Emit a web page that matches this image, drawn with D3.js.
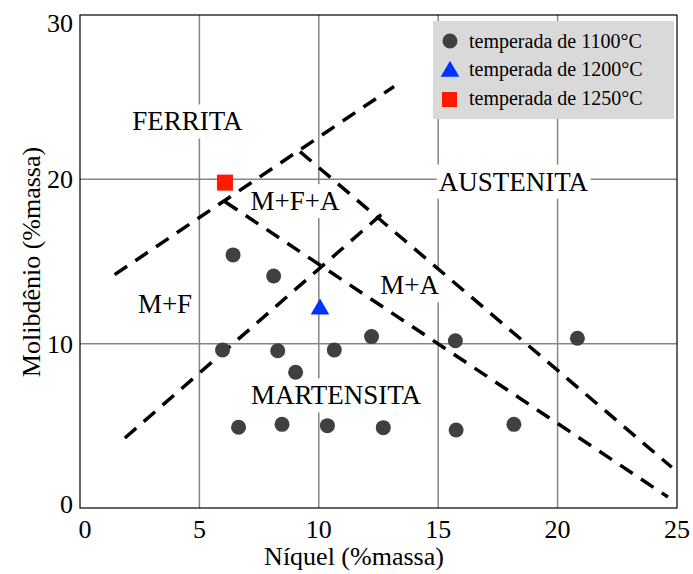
<!DOCTYPE html>
<html>
<head>
<meta charset="utf-8">
<script src="https://cdn.jsdelivr.net/npm/d3@7"></script>
<style>
  body { margin: 0; background: #fff; }
  svg { display: block; }
  text { fill: #000; }
</style>
</head>
<body>
<svg id="chart" width="693" height="574" font-family="'Liberation Serif', 'Times New Roman', serif"></svg>
<script>
// Axis ticks
const xTicks = [0, 5, 10, 15, 20, 25];
const yTicks = [0, 10, 20, 30];

// Samples quenched from 1100 °C (Ni %, Mo %)
const ni1100 = [6.41, 8.11, 5.97, 8.28, 10.65, 12.21, 15.72, 20.83, 9.03, 6.64, 8.46, 10.36, 12.70, 15.75, 18.17];
const mo1100 = [15.40, 14.12, 9.62, 9.57, 9.62, 10.43, 10.18, 10.33, 8.26, 4.91, 5.09, 5.01, 4.89, 4.75, 5.09];
// Sample quenched from 1200 °C
const ni1200 = [10.05];
const mo1200 = [12.1];
// Sample quenched from 1250 °C
const ni1250 = [6.07];
const mo1250 = [19.8];

// Phase boundaries (start / end of each dashed line)
const boundaryNi = [[1.45, 13.15], [1.88, 12.69], [6.07, 24.62], [9.21, 24.78]];
const boundaryMo = [[14.2, 25.65], [4.26, 17.95], [18.64, 0.67], [21.69, 2.48]];

// Phase field labels
const phaseNames = ["FERRITA", "AUSTENITA", "M+F+A", "M+A", "M+F", "MARTENSITA"];
const phaseNi = [4.50, 18.15, 9.00, 13.80, 3.56, 10.72];
const phaseMo = [23.55, 19.89, 18.70, 13.57, 12.42, 6.88];

const legendLabels = ["temperada de 1100°C", "temperada de 1200°C", "temperada de 1250°C"];

const FONT = "'Liberation Serif', 'Times New Roman', serif";
const svg = d3.select("#chart");
const plotL = 80, plotR = 677, plotT = 15, plotB = 508;

const x = d3.scaleLinear().domain([0, 25]).range([plotL, plotR]);
const y = d3.scaleLinear().domain([0, 30]).range([plotB, plotT]);

// Grid
const grid = svg.append("g").attr("stroke", "#858585").attr("stroke-width", 1.5);
grid.selectAll("line.v").data(xTicks.slice(1, -1)).join("line").attr("class", "v")
  .attr("x1", d => x(d)).attr("x2", d => x(d)).attr("y1", plotT).attr("y2", plotB);
grid.selectAll("line.h").data(yTicks.slice(1, -1)).join("line").attr("class", "h")
  .attr("y1", d => y(d)).attr("y2", d => y(d)).attr("x1", plotL).attr("x2", plotR);

// Phase labels on white boxes
const labels = svg.append("g");
phaseNames.forEach((name, i) => {
  const g = labels.append("g");
  const t = g.append("text")
    .attr("x", x(phaseNi[i])).attr("y", y(phaseMo[i]))
    .attr("dy", "0.35em")
    .attr("text-anchor", "middle")
    .attr("font-family", FONT)
    .attr("font-size", 27)
    .text(name);
  const b = t.node().getBBox();
  g.insert("rect", "text")
    .attr("x", b.x - 2).attr("y", b.y - 2)
    .attr("width", b.width + 4).attr("height", b.height + 4)
    .attr("fill", "#fff");
});

// Dashed boundaries
const lineGen = d3.line().x(d => x(d[0])).y(d => y(d[1]));
svg.append("g").selectAll("path").data(boundaryNi.map((n, i) => n.map((v, j) => [v, boundaryMo[i][j]])))
  .join("path")
  .attr("d", lineGen)
  .attr("fill", "none")
  .attr("stroke", "#000")
  .attr("stroke-width", 3.5)
  .attr("stroke-dasharray", "15,10");

// Samples
const circleColor = "#404040";
svg.append("g").selectAll("circle").data(d3.zip(ni1100, mo1100)).join("circle")
  .attr("cx", d => x(d[0])).attr("cy", d => y(d[1])).attr("r", 7.5)
  .attr("fill", circleColor);

const tri = d3.symbol().type(d3.symbolTriangle).size(150);
svg.append("g").selectAll("path").data(d3.zip(ni1200, mo1200)).join("path")
  .attr("d", tri)
  .attr("transform", d => `translate(${x(d[0])},${y(d[1])})`)
  .attr("fill", "#0033ff");

svg.append("g").selectAll("rect").data(d3.zip(ni1250, mo1250)).join("rect")
  .attr("x", d => x(d[0]) - 8).attr("y", d => y(d[1]) - 8)
  .attr("width", 16).attr("height", 16)
  .attr("fill", "#ff1a00");

// Legend
const leg = svg.append("g");
leg.append("rect").attr("x", 433).attr("y", 21).attr("width", 241).attr("height", 98).attr("fill", "#d9d9d9");
const rowY = [41, 69.5, 98];
leg.append("circle").attr("cx", 450).attr("cy", rowY[0]).attr("r", 7.5).attr("fill", circleColor);
leg.append("path").attr("d", tri).attr("transform", `translate(450,${rowY[1] + 2})`).attr("fill", "#0033ff");
leg.append("rect").attr("x", 442).attr("y", rowY[2] - 6).attr("width", 15).attr("height", 15).attr("fill", "#ff1a00");
leg.selectAll("text").data(legendLabels).join("text")
  .attr("x", 469).attr("y", (d, i) => rowY[i]).attr("dy", "0.33em")
  .attr("font-family", FONT)
  .attr("font-size", 20).text(d => d);

// Frame
svg.append("rect").attr("x", plotL).attr("y", plotT).attr("width", plotR - plotL).attr("height", plotB - plotT)
  .attr("fill", "none").attr("stroke", "#000").attr("stroke-width", 1.2);

// Tick labels
svg.append("g").selectAll("text").data(xTicks).join("text")
  .attr("x", d => Math.max(x(d), 85)).attr("y", 538)
  .attr("text-anchor", "middle").attr("font-family", FONT).attr("font-size", 26).text(d => d);
svg.append("g").selectAll("text").data(yTicks).join("text")
  .attr("x", 73).attr("y", d => Math.min(Math.max(y(d), 23), 504)).attr("dy", "0.35em")
  .attr("text-anchor", "end").attr("font-family", FONT).attr("font-size", 26).text(d => d);

// Axis titles
svg.append("text").attr("x", 354).attr("y", 565).attr("text-anchor", "middle")
  .attr("font-family", FONT).attr("font-size", 26).text("Níquel (%massa)");
svg.append("text").attr("transform", "translate(40,262) rotate(-90)").attr("text-anchor", "middle")
  .attr("font-family", FONT).attr("font-size", 26).text("Molibdênio (%massa)");
</script>
</body>
</html>
